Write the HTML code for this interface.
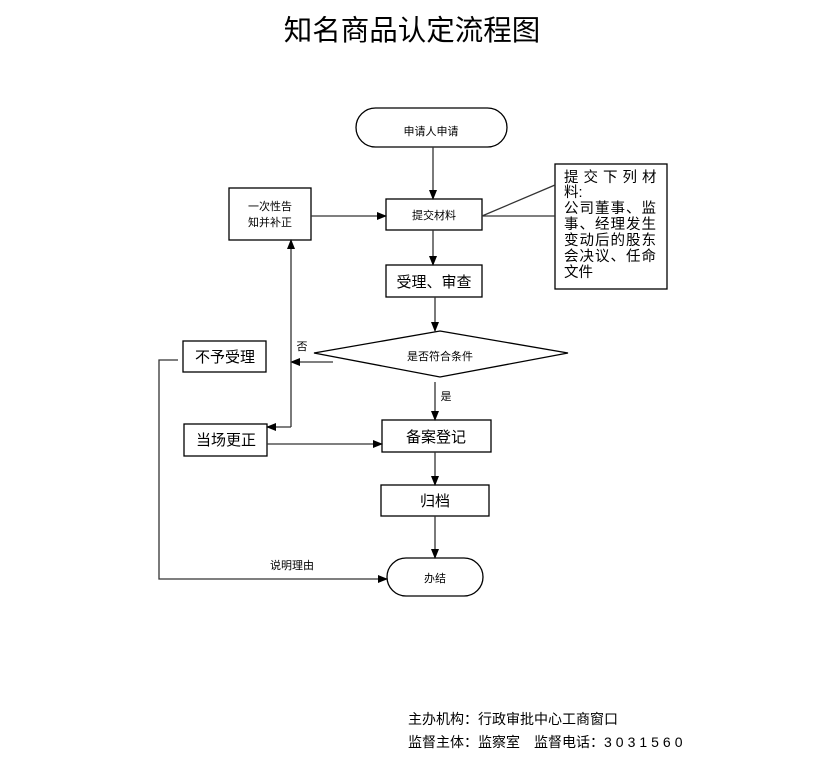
<!DOCTYPE html>
<html><head><meta charset="utf-8"><style>
html,body{margin:0;padding:0;background:#fff;}
svg text{font-family:"Liberation Sans","Noto Sans CJK SC","WenQuanYi Zen Hei",sans-serif;fill:#000;}
</style></head><body>
<svg width="823" height="762" viewBox="0 0 823 762" xmlns="http://www.w3.org/2000/svg">
<defs><marker id="a" markerWidth="10" markerHeight="10" refX="9" refY="5" orient="auto" markerUnits="userSpaceOnUse"><path d="M0,1 L10,5 L0,9 Z" fill="#000"/></marker></defs>
<text x="412" y="40" font-size="28.5" text-anchor="middle">知名商品认定流程图</text>
<g stroke="#000" stroke-width="1.3" fill="#fff">
<rect x="356" y="108" width="151" height="39" rx="19.5"/>
<rect x="386" y="199" width="96" height="31"/>
<rect x="229" y="188" width="82" height="52"/>
<rect x="555" y="164" width="112" height="125"/>
<rect x="386" y="265" width="96" height="32"/>
<polygon points="440,331 568,353 440,377 314,353"/>
<rect x="183" y="341" width="83" height="31"/>
<rect x="184" y="424" width="83" height="32"/>
<rect x="382" y="420" width="109" height="32"/>
<rect x="381" y="485" width="108" height="31"/>
<rect x="387" y="558" width="96" height="38" rx="19"/>
</g>
<g stroke="#333" stroke-width="1.3" fill="none">
<line x1="433" y1="147" x2="433" y2="199" marker-end="url(#a)"/>
<line x1="311" y1="216" x2="386" y2="216" marker-end="url(#a)"/>
<polyline points="555,185 482,216 555,216"/>
<line x1="433" y1="230" x2="433" y2="265" marker-end="url(#a)"/>
<line x1="435" y1="297" x2="435" y2="331" marker-end="url(#a)"/>
<line x1="333" y1="362" x2="291" y2="362" marker-end="url(#a)"/>
<line x1="291" y1="427" x2="291" y2="240" marker-end="url(#a)"/>
<line x1="291" y1="427" x2="267" y2="427" marker-end="url(#a)"/>
<line x1="267" y1="444" x2="382" y2="444" marker-end="url(#a)"/>
<line x1="435" y1="382" x2="435" y2="420" marker-end="url(#a)"/>
<line x1="435" y1="452" x2="435" y2="485" marker-end="url(#a)"/>
<line x1="435" y1="516" x2="435" y2="558" marker-end="url(#a)"/>
<polyline points="178,360 159,360 159,579 387,579" marker-end="url(#a)"/>
</g>
<g font-size="11" text-anchor="middle">
<text x="431" y="135">申请人申请</text>
<text x="434" y="219">提交材料</text>
<text x="270" y="210">一次性告</text>
<text x="270" y="226">知并补正</text>
<text x="440" y="360">是否符合条件</text>
<text x="435" y="582">办结</text>
<text x="302" y="350">否</text>
<text x="446" y="400">是</text>
<text x="292" y="569">说明理由</text>
</g>
<g font-size="15" text-anchor="middle">
<text x="434" y="287">受理、审查</text>
<text x="225" y="362">不予受理</text>
<text x="226" y="445">当场更正</text>
<text x="436" y="442">备案登记</text>
<text x="435" y="506">归档</text>
</g>
<g font-size="14.5">
<text x="564" y="182" letter-spacing="5">提交下列材</text>
<text x="564" y="197">料:</text>
<text x="564" y="213" letter-spacing="1">公司董事、监</text>
<text x="564" y="229" letter-spacing="1">事、经理发生</text>
<text x="564" y="245" letter-spacing="1">变动后的股东</text>
<text x="564" y="261" letter-spacing="1">会决议、任命</text>
<text x="564" y="277">文件</text>
</g>
<g font-size="14">
<text x="408" y="724">主办机构：行政审批中心工商窗口</text>
<text x="408" y="747">监督主体：监察室　监督电话：<tspan letter-spacing="4">3031560</tspan></text>
</g>
</svg>
</body></html>
